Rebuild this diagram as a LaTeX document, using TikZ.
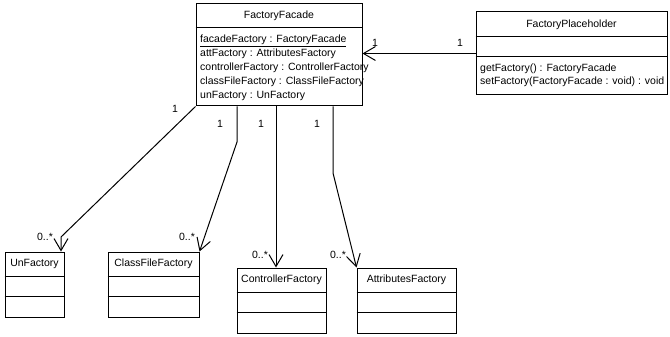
\documentclass[tikz,border=0pt]{standalone}
\usepackage{fontspec}
\setmainfont{Liberation Sans}
\usetikzlibrary{arrows.meta,calc}

\begin{document}
\begin{tikzpicture}[
    x=1pt, y=-1pt,
    font=\fontsize{10.5}{13}\selectfont,
    classbox/.style={
        draw,
        line width=1pt,
        fill=white,
        inner sep=0pt
    },
    classname/.style={
        inner sep=0pt
    },
    members/.style={
        inner sep=0pt,
        anchor=west,
        align=left
    },
    assoc/.style={
        -{Straight Barb[length=12pt,width=14pt]},
        line width=1pt
    },
    mult/.style={
        inner sep=0pt
    }
]

% Canvas
\useasboundingbox[fill=white] (0,0) rectangle (670,337);

% FactoryFacade
\node[classbox, minimum width=166pt, minimum height=102pt] (facade) at (279,55) {};
\draw[line width=1pt] ($(facade.north west)+(0,24)$) -- ($(facade.north east)+(0,24)$);
\node[classname] (facadeName) at ($(facade.north)+(0,12)$) {FactoryFacade};
\node[members, font=\fontsize{10.5}{14}\selectfont] (facadeAttrs) at (200,68)
{\underline{facadeFactory : FactoryFacade}\\
attFactory : AttributesFactory\\
controllerFactory : ControllerFactory\\
classFileFactory : ClassFileFactory\\
unFactory : UnFactory};

% FactoryPlaceholder
\node[classbox, minimum width=191pt, minimum height=83pt] (holder) at (571.5,53.5) {};
\draw[line width=1pt] ($(holder.north west)+(0,25)$) -- ($(holder.north east)+(0,25)$);
\draw[line width=1pt] ($(holder.north west)+(0,45)$) -- ($(holder.north east)+(0,45)$);
\node[classname] (holderName) at ($(holder.north)+(0,13)$) {FactoryPlaceholder};
\node[members] (holderOps) at (480,75.5)
{getFactory() : FactoryFacade\\
setFactory(FactoryFacade : void) : void};

% Product classes
\node[classbox, minimum width=59pt, minimum height=65pt] (unf) at (34.5,284.5) {};
\node[classbox, minimum width=91pt, minimum height=65pt] (cff) at (153.5,284.5) {};
\node[classbox, minimum width=89pt, minimum height=65pt] (ctrl) at (281.5,300.5) {};
\node[classbox, minimum width=99pt, minimum height=65pt] (attr) at (406.5,300.5) {};

\foreach \c in {unf,cff,ctrl,attr} {
    \draw[line width=1pt] ($(\c.north west)+(0,25)$) -- ($(\c.north east)+(0,25)$);
    \draw[line width=1pt] ($(\c.north west)+(0,45)$) -- ($(\c.north east)+(0,45)$);
}

\node[classname] (unfName) at ($(unf.north)+(0,12.5)$) {UnFactory};
\node[classname] (cffName) at ($(cff.north)+(0,12.5)$) {ClassFileFactory};
\node[classname] (ctrlName) at ($(ctrl.north)+(0,12.5)$) {ControllerFactory};
\node[classname] (attrName) at ($(attr.north)+(0,12.5)$) {AttributesFactory};

% Placeholder -> facade
\draw[assoc] (holder.west) -- (holder.west -| facade.east);
\node[mult] (holderNear) at (375,43) {1};
\node[mult] (holderFar) at (460,43) {1};

% Facade -> UnFactory
\coordinate (unfBend) at (61,237);
\draw[assoc] (facade.south west) -- (unfBend) -- (unfBend |- unf.north);
\node[mult] (unfOne) at (175,109) {1};
\node[mult] (unfMany) at (45,237) {0..*};

% Facade -> ClassFileFactory
\coordinate (cffBend) at (237,142);
\draw[assoc] (cffBend |- facade.south) -- (cffBend) -- (cff.north east);
\node[mult] (cffOne) at (220,124) {1};
\node[mult] (cffMany) at (187,237) {0..*};

% Facade -> ControllerFactory
\coordinate (ctrlEnd) at ($(ctrl.north)+(-5.5,0)$);
\draw[assoc] (ctrlEnd |- facade.south) -- (ctrlEnd);
\node[mult] (ctrlOne) at (261,124) {1};
\node[mult] (ctrlMany) at (260,255) {0..*};

% Facade -> AttributesFactory
\coordinate (attrBend) at (333,173);
\draw[assoc] (attrBend |- facade.south) -- (attrBend) -- (attr.north west);
\node[mult] (attrOne) at (317,124) {1};
\node[mult] (attrMany) at (338,255) {0..*};

\end{tikzpicture}
\end{document}
